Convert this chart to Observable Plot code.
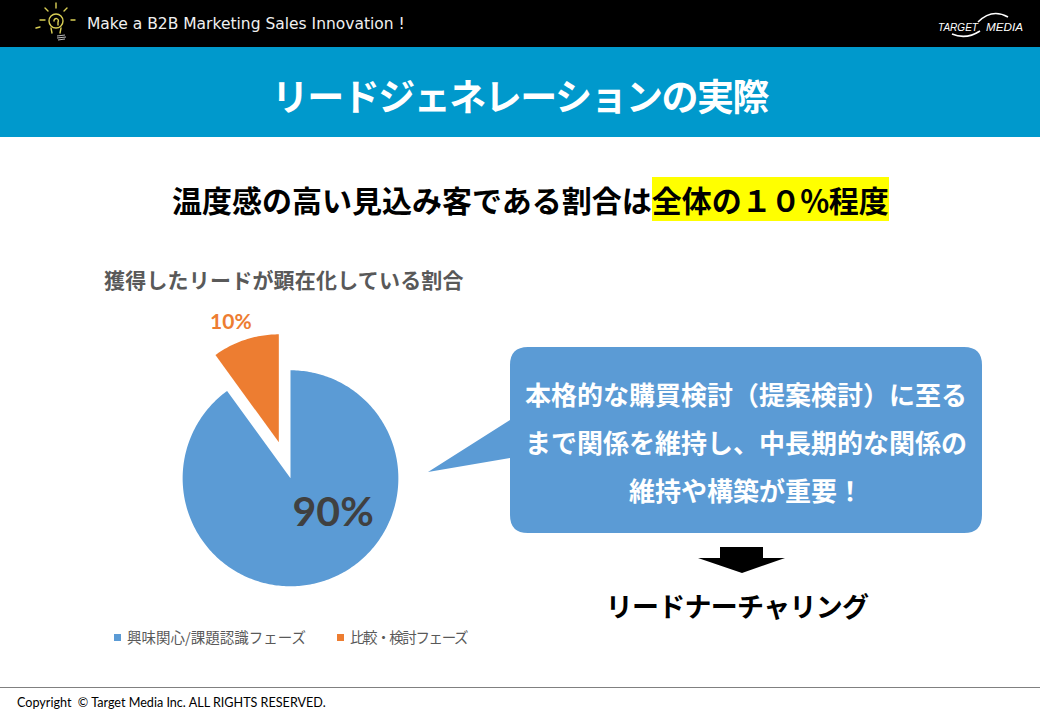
<!DOCTYPE html>
<html><head><meta charset="utf-8">
<script src="https://cdn.jsdelivr.net/npm/d3@7"></script>
<script src="https://cdn.jsdelivr.net/npm/@observablehq/plot@0.6"></script>
<style>
html,body{margin:0;padding:0;background:#fff;}
#page{position:relative;width:1040px;height:720px;overflow:hidden;font-family:"Noto Sans CJK JP",sans-serif;}
.abs{position:absolute;white-space:nowrap;}
#topbar{left:0;top:0;width:1040px;height:47px;background:#000;}
#band{left:0;top:47px;width:1040px;height:90px;background:#0099CC;}
#tagline{left:87px;top:13px;font-family:"DejaVu Sans",sans-serif;font-size:15.5px;color:#f0f0f0;line-height:22px;}
#title{left:0;width:1040px;top:68px;text-align:center;font-size:37px;font-weight:700;color:#fff;line-height:54px;letter-spacing:-1.5px;}
#headline{left:172px;top:178px;font-size:30px;font-weight:700;color:#000;line-height:42px;}
#headline .hl{background:#FFFF00;}
#headline .num{letter-spacing:-1px;}
#pietitle{left:104px;top:264px;font-size:21px;font-weight:700;color:#595959;line-height:30px;letter-spacing:0.2px;}
#legend{left:114px;top:626px;font-size:14.5px;color:#595959;line-height:22px;}
#legend span.item{margin-right:31px;}
#legend span.item.n1{letter-spacing:-1.4px;}
#legend i{display:inline-block;width:7px;height:7px;margin-right:6px;vertical-align:2px;}
#callout-text{left:510px;top:370px;width:472px;text-align:center;font-size:26px;font-weight:700;color:#fff;line-height:48px;}
#nurture{left:600px;width:274px;top:586px;text-align:center;font-size:27px;font-weight:700;color:#000;line-height:40px;letter-spacing:-0.7px;}
#footline{left:0;top:687px;width:1040px;height:1px;background:#808080;}
#copy{left:17px;top:695px;font-family:Lato,"Open Sans",sans-serif;font-size:12.6px;color:#000;line-height:16px;}
#pie{left:139px;top:305px;}
</style></head>
<body>
<div id="page">
  <div id="topbar" class="abs"></div>
  <svg class="abs" style="left:0;top:0" width="1040" height="47">
    <g stroke="#d9cf55" stroke-width="1.4" fill="none" stroke-linecap="round">
      <circle cx="56" cy="21" r="7"/>
      <path d="M54 21 a2.2 2.2 0 1 1 4 1 l0 3"/>
      <path d="M51 28 l1 5 M61 28 l-1 5"/>
      <path d="M56 3 l0 5 M45 8 l3 3 M67 8 l-3 3 M40 20 l5 0 M36 28 l4 -1 M71 20 l4 0"/>
    </g>
    <g stroke="#bbbbbb" stroke-width="1" fill="none">
      <path d="M57 36 l8 -1 M57 38 l9 -1 M58 40 l7 -1"/>
    </g>
    <g fill="#fff" font-family="'Liberation Sans',sans-serif" font-size="11.5" font-style="italic">
      <text x="938" y="31" textLength="40" lengthAdjust="spacingAndGlyphs">TARGET</text>
      <text x="986" y="31" textLength="37" lengthAdjust="spacingAndGlyphs">MEDIA</text>
    </g>
    <path d="M978 22 Q992 8 1008 17" stroke="#fff" stroke-width="1.6" fill="none"/>
    <path d="M952 34 Q966 40 980 31" stroke="#fff" stroke-width="1.6" fill="none"/>
  </svg>
  <div id="tagline" class="abs">Make a B2B Marketing Sales Innovation !</div>
  <div id="band" class="abs"></div>
  <div id="title" class="abs">リードジェネレーションの実際</div>
  <div id="headline" class="abs">温度感の高い見込み客である割合は<span class="hl">全体の<span class="num">１０％</span>程度</span></div>
  <div id="pietitle" class="abs">獲得したリードが顕在化している割合</div>
  <div id="pie" class="abs"></div>
  <div id="legend" class="abs"></div>
  <svg class="abs" style="left:0;top:0" width="1040" height="720">
    <path d="M528 347 H964 Q982 347 982 365 V515 Q982 533 964 533 H528 Q510 533 510 515 V458 L428 472 L510 420 V365 Q510 347 528 347 Z" fill="#5B9BD5"/>
    <path d="M720 547 H763 V558 H785 L742 573 L698 558 H720 Z" fill="#000"/>
  </svg>
  <div id="callout-text" class="abs">本格的な購買検討（提案検討）に至る<br>まで関係を維持し、中長期的な関係の<br>維持や構築が重要！</div>
  <div id="nurture" class="abs">リードナーチャリング</div>
  <div id="footline" class="abs"></div>
  <div id="copy" class="abs">Copyright &nbsp;© Target Media Inc. ALL RIGHTS RESERVED.</div>
</div>
<script>
const categories = ["興味関心/課題認識フェーズ", "比較・検討フェーズ"];
const shares = [90, 10];
const shareLabels = ["90%", "10%"];
const colors = ["#5B9BD5", "#ED7D31"];
const explode = [0, 0.35];

const arcs = d3.pie().sort(null).value(d => d)(shares);
const pts = [];
const labelPts = [];
arcs.forEach((a, i) => {
  const mid = (a.startAngle + a.endAngle) / 2;
  const ox = explode[i] * Math.sin(mid), oy = explode[i] * Math.cos(mid);
  pts.push({cat: categories[i], x: ox, y: oy});
  const n = Math.ceil((a.endAngle - a.startAngle) / (Math.PI / 180));
  for (let k = 0; k <= n; k++) {
    const t = a.startAngle + (a.endAngle - a.startAngle) * k / n;
    pts.push({cat: categories[i], x: ox + Math.sin(t), y: oy + Math.cos(t)});
  }
  const r = i === 0 ? 0.5 : 1.2;
  labelPts.push({cat: categories[i], label: shareLabels[i], x: ox + r * Math.sin(mid), y: oy + r * Math.cos(mid)});
});

const chart = Plot.plot({
  width: 302, height: 324,
  margin: 0,
  x: {domain: [-1.4, 1.4], axis: null},
  y: {domain: [-1.4, 1.6], axis: null},
  color: {domain: categories, range: colors},
  style: {background: "transparent", overflow: "visible"},
  marks: [
    Plot.line(pts, {x: "x", y: "y", z: "cat", fill: "cat", stroke: "none", curve: "linear-closed"}),
    Plot.text(labelPts.filter((d, i) => i === 0), {x: "x", y: "y", text: "label", fill: "#404040", fontSize: 41, fontWeight: 700, fontFamily: "Lato, 'Open Sans', sans-serif", dx: 26, dy: -17}),
    Plot.text(labelPts.filter((d, i) => i === 1), {x: "x", y: "y", text: "label", fill: colors[1], fontSize: 21, fontWeight: 700, fontFamily: "Lato, 'Open Sans', sans-serif", dx: -8, dy: 3})
  ]
});
document.getElementById("pie").appendChild(chart);

const legend = document.getElementById("legend");
categories.forEach((c, i) => {
  const s = document.createElement("span");
  s.className = "item n" + i;
  const sw = document.createElement("i");
  sw.style.background = colors[i];
  s.appendChild(sw);
  s.appendChild(document.createTextNode(c));
  legend.appendChild(s);
});
</script>
</body></html>
